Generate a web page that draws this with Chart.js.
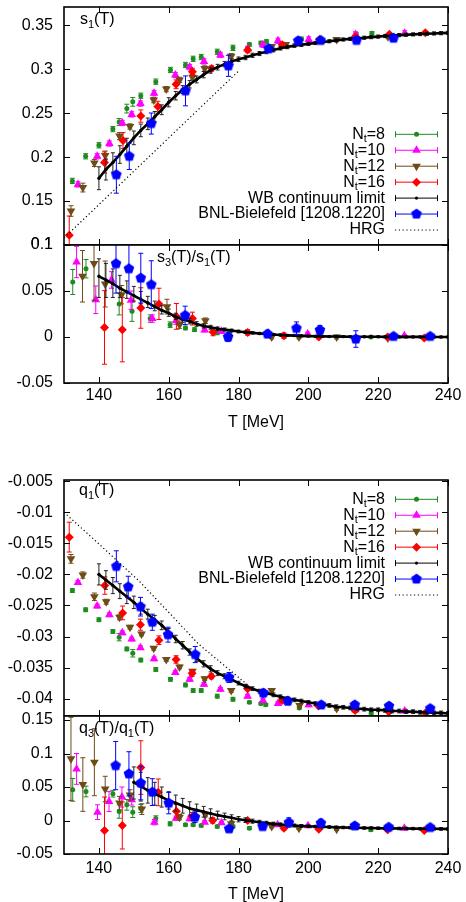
<!DOCTYPE html>
<html>
<head>
<meta charset="utf-8">
<title>s1, s3/s1, q1, q3/q1 vs T</title>
<script src="https://cdn.jsdelivr.net/npm/chart.js"></script>
<style>
  html, body { margin: 0; padding: 0; background: #fff; }
  body { width: 466px; height: 902px; overflow: hidden; position: relative; }
  canvas { position: absolute; left: 0; }
</style>
</head>
<body>
<canvas id="c-s1" width="466" height="245" style="top:0px"></canvas>
<canvas id="c-s31" width="466" height="205" style="top:230px"></canvas>
<canvas id="c-q1" width="466" height="251" style="top:465px"></canvas>
<canvas id="c-q31" width="466" height="216" style="top:700px"></canvas>
<script>
// ---------- data ----------

// WB continuum limit temperatures
var tWB = [140,142,144,146,148,150,152,154,156,158,160,162,164,166,168,170,172,174,176,178,180,182,184,186,188,190,192,194,196,198,200,202,204,206,208,210,212,214,216,218,220,222,224,226,228,230,232,234,236,238,240];
var tWBq31 = [150,152,154,156,158,160,162,164,166,168,170,172,174,176,178,180,182,184,186,188,190,192,194,196,198,200,202,204,206,208,210,212,214,216,218,220,222,224,226,228,230,232,234,236,238,240];

// s1(T)
var tS1_8 = [132.4,136.2,140,144,145.8,148,149.7,152,156.3,160.5,164.8,167,169.3,173.9,178.4,183.1,186.4,188,198,213.7,218.2];
var s1_8 = [0.173,0.201,0.2135,0.232,0.240,0.2553,0.263,0.270,0.286,0.2993,0.305,0.312,0.314,0.320,0.3245,0.3282,0.330,0.3317,0.3347,0.340,0.341];
var s1_8e = [0.003,0.003,0.003,0.003,0.004,0.005,0.005,0.003,0.003,0.003,0.003,0.003,0.003,0.003,0.003,0.002,0.002,0.002,0.002,0.002,0.002];
var tS1_10 = [134,139.5,143,146.7,149.4,151.9,155.8,161.9,166,170.1,174.8,182.6,187,191.3,200.1,213.5,227.6];
var s1_10 = [0.169,0.201,0.2155,0.239,0.2487,0.261,0.2728,0.2935,0.3026,0.309,0.3164,0.3233,0.328,0.3325,0.334,0.3397,0.341];
var s1_10e = [0.003,0.003,0.003,0.003,0.003,0.003,0.003,0.003,0.003,0.003,0.003,0.003,0.003,0.003,0.003,0.003,0.003];
var tS1_12 = [132,135.4,138.7,141.8,145.9,148.9,155.7,159.3,163.1,166.8,170.3,177.9,189.5,193.5,208.1,222.8];
var s1_12 = [0.1387,0.1654,0.1934,0.202,0.224,0.235,0.265,0.2775,0.288,0.291,0.301,0.315,0.326,0.3282,0.334,0.337];
var s1_12e = [0.006,0.005,0.004,0.005,0.004,0.003,0.003,0.003,0.003,0.003,0.003,0.003,0.002,0.002,0.002,0.002];
var tS1_16 = [131.5,141.6,146.9,152,156.9,162.1,166.8,172.3,182.6,192.5,203.2,213.5,223.2,233.5];
var s1_16 = [0.111,0.194,0.219,0.2468,0.2577,0.283,0.2972,0.301,0.322,0.328,0.334,0.337,0.340,0.3416];
var s1_16e = [0.022,0.012,0.009,0.007,0.006,0.005,0.004,0.003,0.003,0.003,0.002,0.002,0.002,0.002];
var tS1_bnl = [145,148.7,155,164.8,177.1,188.6,197.1,203.5,213.8,224.4];
var s1_bnl = [0.180,0.201,0.2383,0.2755,0.304,0.3235,0.3325,0.333,0.333,0.3355];
var s1_bnle = [0.021,0.015,0.012,0.017,0.012,0.004,0.004,0.003,0.003,0.003];
var s1_wb = [0.176,0.186,0.194,0.203,0.2125,0.222,0.2305,0.238,0.246,0.254,0.2625,0.270,0.277,0.283,0.2885,0.294,0.299,0.3025,0.306,0.309,0.3115,0.3135,0.316,0.318,0.320,0.322,0.324,0.3255,0.327,0.328,0.329,0.330,0.331,0.332,0.333,0.334,0.3347,0.3355,0.336,0.3367,0.3373,0.338,0.3385,0.339,0.3394,0.3398,0.3402,0.3406,0.3409,0.3412,0.3415];
var s1_wbe = [0.013,0.012,0.011,0.010,0.009,0.0078,0.0072,0.0066,0.006,0.0056,0.0052,0.0048,0.0045,0.0042,0.0039,0.0036,0.0034,0.0032,0.003,0.0028,0.0026,0.0025,0.0024,0.0023,0.0022,0.0021,0.002,0.002,0.002,0.002,0.0018,0.0018,0.0018,0.0018,0.0018,0.0018,0.0018,0.0018,0.0018,0.0018,0.0018,0.0018,0.0018,0.0018,0.0018,0.0018,0.0018,0.0018,0.0018,0.0018,0.0018];
var tS1_hrg = [130,140,150,160,170,180];
var s1_hrg = [0.108,0.146,0.184,0.222,0.260,0.298];

// s3(T)/s1(T)
var tS31_8 = [132.5,136.3,145.8,149.5,154.7,160.4,164.8,167.4,173.9,177.5,217.9];
var s31_8 = [0.0598,0.0742,0.036,0.028,0.020,0.0134,0.0098,0.008,0.0045,0.0043,0.0];
var s31_8e = [0.0136,0.010,0.012,0.011,0.004,0.003,0.002,0.002,0.002,0.002,0.001];
var tS31_10 = [133.6,139.1,143.6,149.2,155.3,162.1,170.3,175.1,188.6,199.8,227.5];
var s31_10 = [0.0815,0.0405,0.062,0.040,0.020,0.0177,0.0076,0.006,0.004,0.0032,0.0014];
var s31_10e = [0.017,0.015,0.009,0.010,0.004,0.004,0.002,0.002,0.002,0.002,0.001];
var tS31_12 = [135.3,138.6,141.8,146.5,159.5,163.1,170.5,189.5,197.3,208.1,222.8];
var s31_12 = [0.066,0.080,0.0576,0.046,0.033,0.0134,0.0177,0.0,0.0,0.0,-0.001];
var s31_12e = [0.028,0.040,0.025,0.010,0.008,0.004,0.003,0.002,0.002,0.002,0.002];
var tS31_16 = [141.6,146.7,152,157.2,162.2,166.8,172.7,182.6,193,203,222.7,233.2];
var s31_16 = [0.0104,0.008,0.0315,0.036,0.0224,0.020,0.0054,0.005,0.0014,0.0,0.0,-0.001];
var s31_16e = [0.040,0.035,0.022,0.017,0.014,0.007,0.004,0.003,0.003,0.002,0.002,0.002];
var tS31_bnl = [144.9,148.6,152,155,164.7,177,188.3,196.6,203.3,213.6,224.4,234.9];
var s31_bnl = [0.0797,0.0742,0.064,0.0569,0.0235,0.0,0.0033,0.0094,0.0076,-0.0022,0.0007,0.0007];
var s31_bnle = [0.032,0.027,0.027,0.026,0.010,0.005,0.004,0.007,0.005,0.009,0.003,0.003];
var s31_wb = [0.066,0.062,0.058,0.053,0.049,0.045,0.041,0.037,0.033,0.029,0.026,0.022,0.019,0.017,0.014,0.012,0.0105,0.009,0.008,0.007,0.006,0.0052,0.0045,0.0038,0.0032,0.0027,0.0022,0.0018,0.0015,0.0012,0.001,0.0008,0.0007,0.0006,0.0005,0.0004,0.0003,0.0003,0.0002,0.0002,0.0002,0.0001,0.0001,0.0001,0.0001,0.0001,0.0001,0,0,0,0];
var s31_wbUp = [0.019,0.018,0.016,0.014,0.012,0.010,0.0085,0.0072,0.006,0.005,0.0044,0.0038,0.0033,0.003,0.0027,0.0024,0.0022,0.002,0.0018,0.0016,0.0015,0.0014,0.0013,0.0012,0.0011,0.001,0.001,0.001,0.001,0.001,0.0009,0.0009,0.0009,0.0009,0.0009,0.0009,0.0009,0.0009,0.0009,0.0009,0.0009,0.0009,0.0009,0.0009,0.0009,0.0009,0.0009,0.0009,0.0009,0.0009,0.0009];
var s31_wbDn = [0.023,0.019,0.015,0.010,0.007,0.006,0.005,0.005,0.0045,0.004,0.0035,0.003,0.003,0.0027,0.0024,0.0022,0.002,0.0018,0.0016,0.0015,0.0015,0.0014,0.0013,0.0012,0.0011,0.001,0.001,0.001,0.001,0.001,0.0009,0.0009,0.0009,0.0009,0.0009,0.0009,0.0009,0.0009,0.0009,0.0009,0.0009,0.0009,0.0009,0.0009,0.0009,0.0009,0.0009,0.0009,0.0009,0.0009,0.0009];

// q1(T)
var tQ1_8 = [132.4,136.2,140,144,145.8,148,149.7,152,156.3,160.5,164.8,167,169.3,173.9,178.4,183.1,186.4,187.8,197.4,218];
var q1_8 = [-0.0226,-0.0257,-0.0273,-0.0292,-0.0301,-0.032,-0.0327,-0.0338,-0.0353,-0.0369,-0.0378,-0.0387,-0.0387,-0.0396,-0.0401,-0.0406,-0.0408,-0.041,-0.0415,-0.0423];
var q1_8e = [0.0003,0.0003,0.0003,0.0003,0.0006,0.0003,0.0006,0.0003,0.0003,0.0003,0.0003,0.0003,0.0003,0.0003,0.0003,0.0002,0.0002,0.0002,0.0002,0.0002];
var tQ1_10 = [134,139.5,143,146.7,149.4,151.9,155.8,161.9,166,170.1,174.8,182.6,187,191.3,200.1,213.5,227.6];
var q1_10 = [-0.0213,-0.0251,-0.0265,-0.0294,-0.0304,-0.0318,-0.0336,-0.0358,-0.0369,-0.0377,-0.0385,-0.0396,-0.0403,-0.0408,-0.041,-0.0418,-0.042];
var q1_10e = [0.0003,0.0003,0.0003,0.0003,0.0003,0.0003,0.0003,0.0003,0.0003,0.0003,0.0003,0.0003,0.0003,0.0003,0.0003,0.0003,0.0003];
var tQ1_12 = [132,135.4,138.7,142.1,145.9,148.9,152.2,155.7,159.3,163.1,166.8,170.3,177.9,189.5,197.5,208.1,222.8];
var q1_12 = [-0.0175,-0.0201,-0.0236,-0.0244,-0.0269,-0.0285,-0.0296,-0.0319,-0.0337,-0.0349,-0.0356,-0.0368,-0.0387,-0.0387,-0.0411,-0.0416,-0.042];
var q1_12e = [0.0007,0.0005,0.0006,0.0004,0.0004,0.0003,0.0003,0.0003,0.0003,0.0003,0.0003,0.0003,0.0003,0.0003,0.0003,0.0003,0.0003];
var tQ1_16 = [131.5,141.7,146.8,151.9,157.2,162.1,166.7,172.2,182.6,192.5,202.9,213.4,223.1,233.5];
var q1_16 = [-0.0140,-0.0218,-0.0262,-0.0281,-0.0306,-0.0337,-0.0359,-0.0364,-0.0384,-0.0403,-0.0412,-0.0419,-0.0421,-0.0423];
var q1_16e = [0.0024,0.0014,0.0011,0.0009,0.0007,0.0006,0.0005,0.0004,0.0003,0.0003,0.0003,0.0003,0.0003,0.0003];
var tQ1_bnl = [145,148.4,151.9,155.3,159.8,167.6,177.3,187.1,194.1,203.7,213.3,223.1,234.9];
var q1_bnl = [-0.0187,-0.022,-0.0252,-0.0277,-0.0297,-0.0329,-0.0366,-0.0391,-0.0404,-0.041,-0.041,-0.0412,-0.0416];
var q1_bnle = [0.0025,0.0017,0.0015,0.0013,0.0012,0.0013,0.0008,0.0006,0.0006,0.0005,0.0005,0.0005,0.0005];
var q1_wb = [-0.0200,-0.0209,-0.0218,-0.0227,-0.0236,-0.0245,-0.0255,-0.0264,-0.0273,-0.0282,-0.0293,-0.0304,-0.0314,-0.0325,-0.0335,-0.0344,-0.0352,-0.0359,-0.0364,-0.0369,-0.0375,-0.0380,-0.0384,-0.0388,-0.0391,-0.0394,-0.0397,-0.0400,-0.0402,-0.0404,-0.0406,-0.0408,-0.0410,-0.0411,-0.0413,-0.0414,-0.0415,-0.0416,-0.0417,-0.0418,-0.0418,-0.0419,-0.0420,-0.0420,-0.0421,-0.0421,-0.0422,-0.0422,-0.0423,-0.0423,-0.0424];
var q1_wbe = [0.0017,0.0015,0.0013,0.0012,0.0011,0.001,0.0009,0.0008,0.0007,0.0007,0.0006,0.0006,0.0006,0.0005,0.0005,0.0005,0.0005,0.0004,0.0004,0.0004,0.0003,0.0003,0.0003,0.0003,0.0003,0.0003,0.0003,0.0003,0.0003,0.0003,0.0003,0.0003,0.0003,0.0003,0.0003,0.0003,0.0003,0.0003,0.0003,0.0003,0.0003,0.0003,0.0003,0.0003,0.0003,0.0003,0.0003,0.0003,0.0003,0.0003,0.0003];
var tQ1_hrg = [130,140,151.4,160,168.5,176,182.8];
var q1_hrg = [-0.0100,-0.0151,-0.0210,-0.0261,-0.0312,-0.0347,-0.0379];

// q3(T)/q1(T)
var tQ31_8 = [132.5,136.3,144,145.8,148,149.7,152,156.3,160.4,164.8,167,169.3,173.9,178.4,183.1,217.9];
var q31_8 = [0.0458,0.0433,0.040,0.0134,0.0234,0.0125,0.018,0.003,-0.005,-0.0064,-0.0064,-0.0075,-0.009,-0.009,-0.0114,-0.0139];
var q31_8e = [0.017,0.008,0.005,0.010,0.008,0.008,0.006,0.004,0.003,0.002,0.002,0.002,0.002,0.002,0.002,0.002];
var tQ31_10 = [133.6,139.6,142.9,146.6,149.4,155.9,162.1,166,170.3,175.1,191.2,199.9,227.5];
var q31_10 = [0.077,0.0125,0.0284,0.035,0.031,-0.0025,0.0035,0.0025,-0.0025,-0.0035,-0.0064,-0.008,-0.0114];
var q31_10e = [0.023,0.011,0.015,0.015,0.008,0.004,0.003,0.003,0.002,0.002,0.002,0.002,0.002];
var tQ31_12 = [132,135.4,138.7,141.8,145.9,148.9,152.3,163.1,170.5,177.9,189.5,197.3,208.1,222.8];
var q31_12 = [0.092,0.0537,0.087,0.047,0.026,0.038,0.017,0.005,0.0085,-0.005,-0.009,-0.0114,-0.0129,-0.0129];
var q31_12e = [0.062,0.04,0.05,0.019,0.01,0.008,0.008,0.004,0.003,0.003,0.002,0.002,0.002,0.002];
var tQ31_16 = [141.6,146.7,152,157,162.2,166.8,172.6,182.6,193,203,222.7,233.2];
var q31_16 = [-0.015,-0.0075,0.079,0.042,0.014,0.006,0.0,0.0,-0.0114,-0.013,-0.0139,-0.015];
var q31_16e = [0.05,0.035,0.04,0.02,0.01,0.006,0.004,0.003,0.003,0.002,0.002,0.002];
var tQ31_bnl = [144.8,148.6,152,155.3,160,167.5,177.3,186.9,194.4,203.6,213.3,223,234.9];
var q31_bnl = [0.082,0.0697,0.0558,0.0424,0.026,0.005,-0.0124,-0.009,-0.003,-0.004,-0.008,-0.01,-0.0104];
var q31_bnle = [0.036,0.033,0.025,0.02,0.016,0.008,0.004,0.004,0.007,0.006,0.004,0.004,0.003];
var q31_wb = [0.057,0.051,0.045,0.040,0.035,0.030,0.026,0.022,0.018,0.0155,0.013,0.0105,0.008,0.006,0.004,0.002,0.0005,-0.001,-0.0025,-0.0038,-0.005,-0.006,-0.0068,-0.0075,-0.0081,-0.0086,-0.009,-0.0094,-0.0098,-0.0101,-0.0104,-0.0107,-0.0109,-0.0111,-0.0113,-0.0115,-0.0117,-0.0118,-0.0119,-0.012,-0.0121,-0.0122,-0.0123,-0.0124,-0.0125,-0.0126];
var q31_wbUp = [0.023,0.021,0.019,0.017,0.015,0.013,0.012,0.011,0.010,0.009,0.008,0.007,0.006,0.005,0.0045,0.004,0.0035,0.003,0.0028,0.0026,0.0025,0.0024,0.0023,0.0022,0.0021,0.002,0.0018,0.0018,0.0018,0.0018,0.0018,0.0018,0.0018,0.0018,0.0018,0.0018,0.0018,0.0018,0.0018,0.0018,0.0018,0.0018,0.0018,0.0018,0.0018,0.0018];
var q31_wbDn = [0.025,0.022,0.019,0.017,0.015,0.013,0.012,0.011,0.010,0.009,0.008,0.007,0.006,0.005,0.0045,0.004,0.0035,0.003,0.0028,0.0026,0.0025,0.0024,0.0023,0.0022,0.0021,0.002,0.0018,0.0018,0.0018,0.0018,0.0018,0.0018,0.0018,0.0018,0.0018,0.0018,0.0018,0.0018,0.0018,0.0018,0.0018,0.0018,0.0018,0.0018,0.0018,0.0018];

// ---------- styles ----------
var GREEN = '#1d8c1d', MAGENTA = '#ff00ff', BROWN = '#6e4b17', RED = '#ff0000', BLUE = '#0000ff', BLACK = '#000000';
var FONT = '"Liberation Sans", Arial, Helvetica, sans-serif';
var FSIZE = 16;
Chart.defaults.font.family = FONT;
Chart.defaults.font.size = FSIZE;
Chart.defaults.color = '#000';

// pentagon marker for the BNL points
function pentagon(r, color) {
  var c = document.createElement('canvas');
  c.width = c.height = Math.ceil(2 * r + 2);
  var g = c.getContext('2d');
  g.fillStyle = color;
  g.beginPath();
  for (var k = 0; k < 5; k++) {
    var a = -Math.PI / 2 + k * 2 * Math.PI / 5;
    g.lineTo(c.width / 2 + r * Math.cos(a), c.height / 2 + r * Math.sin(a));
  }
  g.closePath();
  g.fill();
  return c;
}
var pentImg = pentagon(5.6, BLUE);

function pts(T, V) {
  var out = [];
  for (var i = 0; i < T.length; i++) out.push({x: T[i], y: V[i]});
  return out;
}

function lattice(label, T, V, E, color, style, r, rot, order) {
  return {
    label: label, data: pts(T, V), errHi: E, errLo: E, cap: 2.5,
    showLine: false, pointStyle: style, pointRadius: r, pointRotation: rot || 0,
    pointBackgroundColor: color, pointBorderColor: color, pointBorderWidth: 0,
    borderColor: color, backgroundColor: color, order: order
  };
}

function wb(T, V, up, dn) {
  return {
    label: 'WB continuum limit', data: pts(T, V), errHi: up, errLo: dn, cap: 2, barColor: '#222',
    showLine: true, borderColor: BLACK, borderWidth: 2.6, pointStyle: 'circle', pointRadius: 1.7,
    pointBackgroundColor: BLACK, pointBorderColor: BLACK, pointBorderWidth: 0, order: 2
  };
}

function hrg(T, V) {
  return {
    label: 'HRG', data: pts(T, V), showLine: true, borderColor: BLACK, borderWidth: 1.2,
    borderDash: [1.2, 2.6], pointRadius: 0, order: 0
  };
}

function fiveSets(d, wbSet) {
  return [
    lattice('Nt=8', d[0][0], d[0][1], d[0][2], GREEN, 'circle', 2.5, 0, 6),
    lattice('Nt=10', d[1][0], d[1][1], d[1][2], MAGENTA, 'triangle', 5, 0, 5),
    lattice('Nt=12', d[2][0], d[2][1], d[2][2], BROWN, 'triangle', 5, 180, 4),
    lattice('Nt=16', d[3][0], d[3][1], d[3][2], RED, 'rectRot', 4.5, 0, 3),
    wbSet,
    lattice('BNL-Bielefeld [1208.1220]', d[4][0], d[4][1], d[4][2], BLUE, pentImg, 5.6, 0, 1)
  ];
}

// ---------- drawing helpers ----------
// parts: [text, isSubscript]
function richText(ctx, parts, x, y, align) {
  var big = FSIZE + 'px ' + FONT, small = '11px ' + FONT;
  var w = 0, i;
  for (i = 0; i < parts.length; i++) {
    ctx.font = parts[i][1] ? small : big;
    w += ctx.measureText(parts[i][0]).width;
  }
  var cx = align === 'right' ? x - w : x;
  ctx.textAlign = 'left';
  ctx.textBaseline = 'middle';
  ctx.fillStyle = '#000';
  for (i = 0; i < parts.length; i++) {
    ctx.font = parts[i][1] ? small : big;
    ctx.fillText(parts[i][0], cx, parts[i][1] ? y + 5 : y);
    cx += ctx.measureText(parts[i][0]).width;
  }
}

function drawMark(ctx, kind, x, y, r, color) {
  if (kind === 'pent') {
    ctx.drawImage(pentImg, x - pentImg.width / 2, y - pentImg.height / 2);
    return;
  }
  ctx.fillStyle = color;
  ctx.beginPath();
  if (kind === 'circle') {
    ctx.arc(x, y, r, 0, 2 * Math.PI);
  } else if (kind === 'triangle' || kind === 'down') {
    var s = kind === 'down' ? -1 : 1;
    for (var k = 0; k < 3; k++) {
      var a = k * 2 * Math.PI / 3;
      ctx.lineTo(x + r * Math.sin(a), y - s * r * Math.cos(a));
    }
  } else if (kind === 'diamond') {
    ctx.moveTo(x, y - r); ctx.lineTo(x + r, y); ctx.lineTo(x, y + r); ctx.lineTo(x - r, y);
  }
  ctx.closePath();
  ctx.fill();
}

var legendRows = [
  {text: [['N', 0], ['t', 1], ['=8', 0]], color: GREEN, mark: 'circle', r: 2.5},
  {text: [['N', 0], ['t', 1], ['=10', 0]], color: MAGENTA, mark: 'triangle', r: 5},
  {text: [['N', 0], ['t', 1], ['=12', 0]], color: BROWN, mark: 'down', r: 5},
  {text: [['N', 0], ['t', 1], ['=16', 0]], color: RED, mark: 'diamond', r: 4.5},
  {text: [['WB continuum limit', 0]], color: BLACK, mark: 'circle', r: 1.6},
  {text: [['BNL-Bielefeld [1208.1220]', 0]], color: BLUE, mark: 'pent', r: 5.6},
  {text: [['HRG', 0]], color: BLACK, mark: 'dots'}
];

function drawLegend(ctx, y0) {
  for (var i = 0; i < legendRows.length; i++) {
    var row = legendRows[i], y = y0 + i * 15.95;
    richText(ctx, row.text, 385, y, 'right');
    ctx.strokeStyle = row.color;
    ctx.lineWidth = 1;
    ctx.beginPath();
    if (row.mark === 'dots') {
      ctx.setLineDash([1.2, 2.6]);
      ctx.moveTo(395, y); ctx.lineTo(438, y);
      ctx.stroke();
      ctx.setLineDash([]);
    } else {
      ctx.moveTo(395, y); ctx.lineTo(438, y);
      ctx.moveTo(395.5, y - 3); ctx.lineTo(395.5, y + 3);
      ctx.moveTo(437.5, y - 3); ctx.lineTo(437.5, y + 3);
      ctx.stroke();
      drawMark(ctx, row.mark, 416.5, y, row.r, row.color);
    }
  }
}

// error bars under each dataset, through the chart scales
var errorBars = {
  id: 'errorBars',
  beforeDatasetDraw: function(chart, args) {
    var ds = chart.data.datasets[args.index];
    if (!ds.errHi) return;
    var ctx = chart.ctx, a = chart.chartArea, xs = chart.scales.x, ys = chart.scales.y;
    ctx.save();
    ctx.beginPath();
    ctx.rect(a.left, a.top, a.right - a.left, a.bottom - a.top);
    ctx.clip();
    ctx.strokeStyle = ds.barColor || ds.borderColor;
    ctx.lineWidth = 1;
    ctx.beginPath();
    for (var i = 0; i < ds.data.length; i++) {
      var p = ds.data[i];
      var px = xs.getPixelForValue(p.x);
      var y1 = ys.getPixelForValue(p.y + ds.errHi[i]);
      var y2 = ys.getPixelForValue(p.y - ds.errLo[i]);
      ctx.moveTo(px, y1); ctx.lineTo(px, y2);
      ctx.moveTo(px - ds.cap, y1); ctx.lineTo(px + ds.cap, y1);
      ctx.moveTo(px - ds.cap, y2); ctx.lineTo(px + ds.cap, y2);
    }
    ctx.stroke();
    ctx.restore();
  }
};

// gnuplot style frame, inward ticks, panel label and key
function framePlugin(cfg) {
  return {
    id: 'frame',
    afterDraw: function(chart) {
      var ctx = chart.ctx, a = chart.chartArea, xs = chart.scales.x, ys = chart.scales.y;
      ctx.save();
      ctx.strokeStyle = '#000';
      ctx.lineWidth = 1;
      ctx.beginPath();
      xs.ticks.forEach(function(t) {
        var px = Math.round(xs.getPixelForValue(t.value)) + 0.5;
        ctx.moveTo(px, a.bottom); ctx.lineTo(px, a.bottom - 6);
        ctx.moveTo(px, a.top); ctx.lineTo(px, a.top + 6);
      });
      ys.ticks.forEach(function(t) {
        var py = Math.round(ys.getPixelForValue(t.value)) + 0.5;
        ctx.moveTo(a.left, py); ctx.lineTo(a.left + 6, py);
        ctx.moveTo(a.right, py); ctx.lineTo(a.right - 6, py);
      });
      ctx.stroke();
      ctx.lineWidth = 1.6;
      ctx.strokeRect(a.left, a.top, a.right - a.left, a.bottom - a.top);
      richText(ctx, cfg.label, cfg.labelX, cfg.labelY - cfg.top, 'left');
      if (cfg.legendY) drawLegend(ctx, cfg.legendY - cfg.top);
      ctx.restore();
    }
  };
}

function makeChart(id, cfg) {
  var yAxis = {
    type: 'linear', min: cfg.yMin, max: cfg.yMax,
    ticks: {
      stepSize: cfg.yStep, includeBounds: false, padding: 11, color: '#000',
      font: {size: FSIZE},
      callback: function(v) { return String(Number(v.toFixed(4))); }
    },
    grid: {display: false, drawTicks: false},
    border: {display: false},
    afterFit: function(s) { s.width = 64; s.paddingTop = 0; s.paddingBottom = 0; }
  };
  var xAxis = {
    type: 'linear', min: 130, max: 240,
    ticks: {
      stepSize: 20, includeBounds: false, display: cfg.xLabels, padding: cfg.tickPad || 3,
      color: '#000', font: {size: FSIZE}, maxRotation: 0, autoSkip: false
    },
    grid: {display: false, drawTicks: false},
    border: {display: false},
    title: {
      display: cfg.xLabels, text: 'T [MeV]', color: '#000', font: {size: FSIZE},
      padding: {top: 0, bottom: cfg.titlePad || 0}
    },
    afterFit: function(s) { s.height = cfg.xHeight; s.paddingLeft = 0; s.paddingRight = 0; }
  };
  return new Chart(document.getElementById(id), {
    type: 'scatter',
    data: {datasets: cfg.datasets},
    options: {
      responsive: false,
      animation: false,
      events: [],
      layout: {autoPadding: false, padding: {left: 0, right: 18, top: cfg.padTop, bottom: 0}},
      scales: {x: xAxis, y: yAxis},
      plugins: {legend: {display: false}, tooltip: {enabled: false}}
    },
    plugins: [errorBars, framePlugin(cfg)]
  });
}

// ---------- the four panels ----------
var setsS1 = fiveSets([
  [tS1_8, s1_8, s1_8e], [tS1_10, s1_10, s1_10e], [tS1_12, s1_12, s1_12e],
  [tS1_16, s1_16, s1_16e], [tS1_bnl, s1_bnl, s1_bnle]
], wb(tWB, s1_wb, s1_wbe, s1_wbe));
setsS1.push(hrg(tS1_hrg, s1_hrg));

makeChart('c-s1', {
  top: 0, padTop: 7, xHeight: 0, xLabels: false,
  yMin: 0.1, yMax: 0.371, yStep: 0.05,
  label: [['s', 0], ['1', 1], ['(T)', 0]], labelX: 80, labelY: 20,
  legendY: 134.3, datasets: setsS1
});

makeChart('c-s31', {
  top: 230, padTop: 15, xHeight: 52, xLabels: true, tickPad: 3, titlePad: 3,
  yMin: -0.05, yMax: 0.1, yStep: 0.05,
  label: [['s', 0], ['3', 1], ['(T)/s', 0], ['1', 1], ['(T)', 0]], labelX: 157, labelY: 258,
  datasets: fiveSets([
    [tS31_8, s31_8, s31_8e], [tS31_10, s31_10, s31_10e], [tS31_12, s31_12, s31_12e],
    [tS31_16, s31_16, s31_16e], [tS31_bnl, s31_bnl, s31_bnle]
  ], wb(tWB, s31_wb, s31_wbUp, s31_wbDn))
});

var setsQ1 = fiveSets([
  [tQ1_8, q1_8, q1_8e], [tQ1_10, q1_10, q1_10e], [tQ1_12, q1_12, q1_12e],
  [tQ1_16, q1_16, q1_16e], [tQ1_bnl, q1_bnl, q1_bnle]
], wb(tWB, q1_wb, q1_wbe, q1_wbe));
setsQ1.push(hrg(tQ1_hrg, q1_hrg));

makeChart('c-q1', {
  top: 465, padTop: 15, xHeight: 0, xLabels: false,
  yMin: -0.0428, yMax: -0.0048, yStep: 0.005,
  label: [['q', 0], ['1', 1], ['(T)', 0]], labelX: 79, labelY: 491,
  legendY: 499.3, datasets: setsQ1
});

makeChart('c-q31', {
  top: 700, padTop: 16, xHeight: 62, xLabels: true, tickPad: 5, titlePad: 12,
  yMin: -0.05, yMax: 0.156, yStep: 0.05,
  label: [['q', 0], ['3', 1], ['(T)/q', 0], ['1', 1], ['(T)', 0]], labelX: 79, labelY: 729,
  datasets: fiveSets([
    [tQ31_8, q31_8, q31_8e], [tQ31_10, q31_10, q31_10e], [tQ31_12, q31_12, q31_12e],
    [tQ31_16, q31_16, q31_16e], [tQ31_bnl, q31_bnl, q31_bnle]
  ], wb(tWBq31, q31_wb, q31_wbUp, q31_wbDn))
});
</script>
</body>
</html>
